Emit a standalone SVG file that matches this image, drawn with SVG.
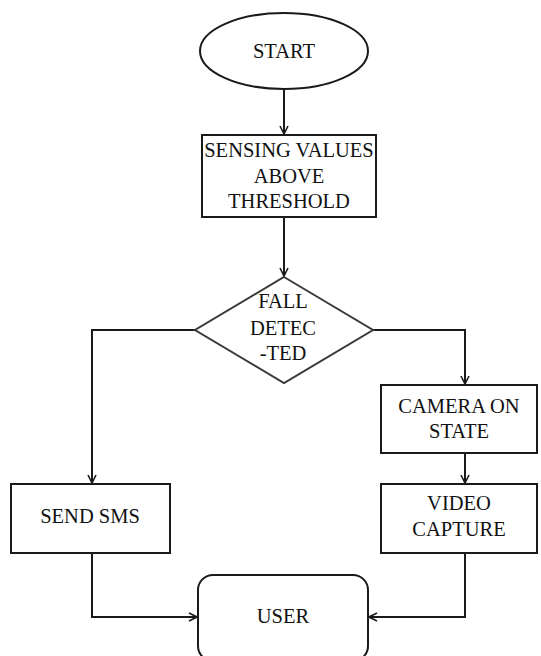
<svg xmlns="http://www.w3.org/2000/svg" width="541" height="656" viewBox="0 0 541 656">
  <defs>
    <style>
      .shape { fill: #ffffff; stroke: #1a1a1a; stroke-width: 2; }
      .diamond { fill: #ffffff; stroke: #3a3a3a; stroke-width: 2; }
      .edge { fill: none; stroke: #1a1a1a; stroke-width: 2; }
      .label { font-size: 20.5px; fill: #111111; text-anchor: middle; }
    </style>
    <marker id="arrow" viewBox="0 0 10 10" refX="9" refY="5" markerWidth="10" markerHeight="10" markerUnits="userSpaceOnUse" orient="auto">
      <path d="M1,1 L9,5 L1,9" fill="none" stroke="#1a1a1a" stroke-width="1.6"/>
    </marker>
  </defs>

  <rect width="541" height="656" fill="#ffffff"/>

  <!-- connectors -->
  <g id="connectors">
    <path class="edge" d="M284,89 L284,134" marker-end="url(#arrow)"/>
    <path class="edge" d="M284,217 L284,276" marker-end="url(#arrow)"/>
    <path class="edge" d="M195,330 L92,330 L92,483" marker-end="url(#arrow)"/>
    <path class="edge" d="M373,330 L465,330 L465,384" marker-end="url(#arrow)"/>
    <path class="edge" d="M465,453 L465,483" marker-end="url(#arrow)"/>
    <path class="edge" d="M92,553 L92,617 L197,617" marker-end="url(#arrow)"/>
    <path class="edge" d="M465,553 L465,617 L369,617" marker-end="url(#arrow)"/>
  </g>

  <g font-family="'Liberation Serif', 'Times New Roman', 'DejaVu Serif', serif">
    <!-- start terminal -->
    <g id="start">
      <ellipse class="shape" cx="284" cy="51" rx="84" ry="38"/>
      <text class="label" x="284" y="58">START</text>
    </g>

    <!-- sensing step -->
    <g id="sensing">
      <rect class="shape" x="202" y="135" width="174" height="82"/>
      <text class="label" x="289" y="157">SENSING VALUES</text>
      <text class="label" x="289" y="183">ABOVE</text>
      <text class="label" x="289" y="208">THRESHOLD</text>
    </g>

    <!-- decision -->
    <g id="fall-detected">
      <polygon class="diamond" points="284,277 373,330 284,383 195,330"/>
      <text class="label" x="283" y="308">FALL</text>
      <text class="label" x="283" y="335">DETEC</text>
      <text class="label" x="283" y="360">-TED</text>
    </g>

    <!-- left branch -->
    <g id="send-sms">
      <rect class="shape" x="11" y="484" width="159" height="69"/>
      <text class="label" x="90" y="523">SEND SMS</text>
    </g>

    <!-- right branch -->
    <g id="camera-on">
      <rect class="shape" x="381" y="385" width="156" height="68"/>
      <text class="label" x="459" y="413">CAMERA ON</text>
      <text class="label" x="459" y="438">STATE</text>
    </g>

    <g id="video-capture">
      <rect class="shape" x="381" y="484" width="156" height="69"/>
      <text class="label" x="459" y="510">VIDEO</text>
      <text class="label" x="459" y="536">CAPTURE</text>
    </g>

    <!-- end -->
    <g id="user">
      <rect class="shape" x="198" y="575" width="170" height="86" rx="15" ry="15"/>
      <text class="label" x="283" y="623">USER</text>
    </g>
  </g>
</svg>
